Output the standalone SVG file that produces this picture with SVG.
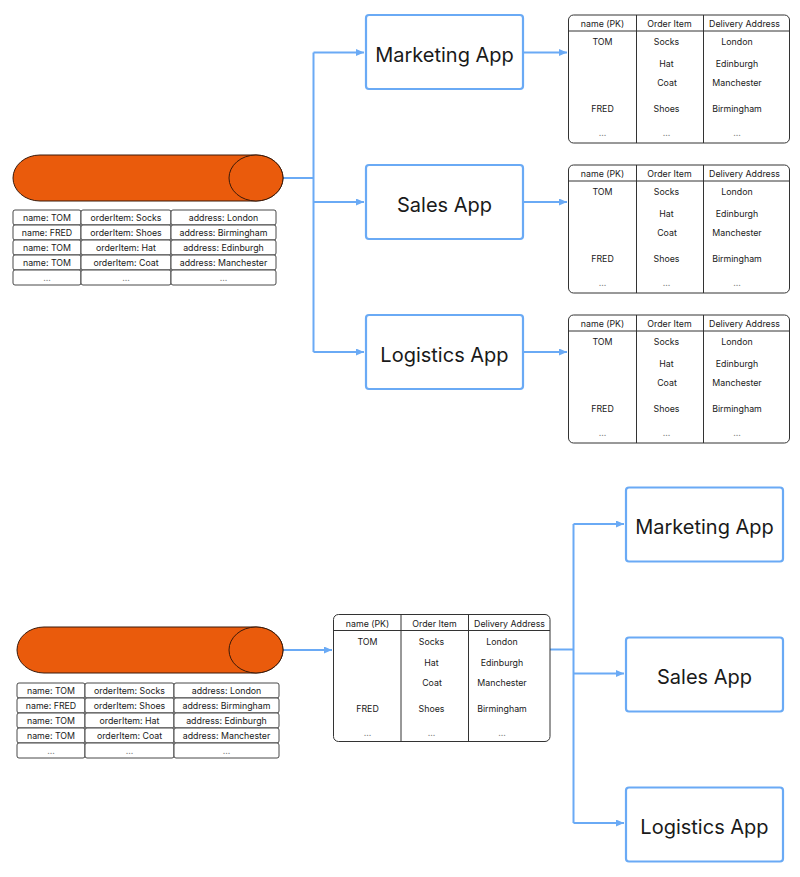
<svg xmlns="http://www.w3.org/2000/svg" width="800" height="877" viewBox="0 0 800 877">
<style>
text{font-family:Inter,"Liberation Sans",Arial,sans-serif;fill:#1a1a1a}
.app rect{fill:#fff;stroke:#6aaaf5;stroke-width:2.2}
.app text{font-size:20px;text-anchor:middle}
.tbl rect{fill:#fff;stroke:#333;stroke-width:1}
.tbl line{stroke:#333;stroke-width:1}
.tbl text{font-size:8.8px;text-anchor:middle}
.cell rect{fill:#fff;stroke:#333;stroke-width:0.9}
.cell text{font-size:8.8px;text-anchor:middle}
text.dim{fill:#888}
.cyl path,.cyl ellipse{fill:#ea5b0c;stroke:#3a1a0a;stroke-width:1}
.conn path{fill:none;stroke:#6aaaf5;stroke-width:2}
</style>
<defs>
<marker id="ah" markerUnits="userSpaceOnUse" markerWidth="9" markerHeight="8" refX="8" refY="3.5" orient="auto">
<path d="M0,0 L8,3.5 L0,7 Z" fill="#6aaaf5"/>
</marker>
</defs>
<rect width="800" height="877" fill="#fff"/>

<g class="conn">
<path d="M283,178 H313.5"/>
<path d="M313.5,52.5 V352"/>
<path d="M313.5,52.5 H364" marker-end="url(#ah)"/>
<path d="M313.5,202 H364" marker-end="url(#ah)"/>
<path d="M313.5,352 H364" marker-end="url(#ah)"/>
<path d="M524,52.5 H567" marker-end="url(#ah)"/>
<path d="M524,202 H567" marker-end="url(#ah)"/>
<path d="M524,352 H567" marker-end="url(#ah)"/>
<path d="M283,650 H332" marker-end="url(#ah)"/>
<path d="M550,649.5 H573.5"/>
<path d="M573.5,524 V823"/>
<path d="M573.5,524 H624" marker-end="url(#ah)"/>
<path d="M573.5,673.5 H624" marker-end="url(#ah)"/>
<path d="M573.5,823 H624" marker-end="url(#ah)"/>
</g>

<g id="stream-top" class="cyl">
<path d="M40,155 H256 A27,23 0 0 1 256,201 H40 A27,23 0 0 1 40,155 Z"/>
<ellipse cx="256" cy="178" rx="27" ry="23"/>
</g>
<g id="events-top" class="cell">
<rect x="13" y="210" width="68" height="15" rx="2"/><rect x="81" y="210" width="90" height="15" rx="2"/><rect x="171" y="210" width="105" height="15" rx="2"/>
<rect x="13" y="225" width="68" height="15" rx="2"/><rect x="81" y="225" width="90" height="15" rx="2"/><rect x="171" y="225" width="105" height="15" rx="2"/>
<rect x="13" y="240" width="68" height="15" rx="2"/><rect x="81" y="240" width="90" height="15" rx="2"/><rect x="171" y="240" width="105" height="15" rx="2"/>
<rect x="13" y="255" width="68" height="15" rx="2"/><rect x="81" y="255" width="90" height="15" rx="2"/><rect x="171" y="255" width="105" height="15" rx="2"/>
<rect x="13" y="270" width="68" height="15" rx="2"/><rect x="81" y="270" width="90" height="15" rx="2"/><rect x="171" y="270" width="105" height="15" rx="2"/>
<text x="47" y="220.5">name: TOM</text><text x="126" y="220.5">orderItem: Socks</text><text x="223.5" y="220.5">address: London</text>
<text x="47" y="235.5">name: FRED</text><text x="126" y="235.5">orderItem: Shoes</text><text x="223.5" y="235.5">address: Birmingham</text>
<text x="47" y="250.5">name: TOM</text><text x="126" y="250.5">orderItem: Hat</text><text x="223.5" y="250.5">address: Edinburgh</text>
<text x="47" y="265.5">name: TOM</text><text x="126" y="265.5">orderItem: Coat</text><text x="223.5" y="265.5">address: Manchester</text>
<text class="dim" x="47" y="280.5">...</text><text class="dim" x="126" y="280.5">...</text><text class="dim" x="223.5" y="280.5">...</text>
</g>

<g id="marketing-top" class="app"><rect x="366" y="15" width="157" height="74" rx="3"/><text x="444.5" y="61.5">Marketing App</text></g>
<g id="sales-top" class="app"><rect x="366" y="165" width="157" height="74" rx="3"/><text x="444.5" y="211.5">Sales App</text></g>
<g id="logistics-top" class="app"><rect x="366" y="315" width="157" height="74" rx="3"/><text x="444.5" y="361.5">Logistics App</text></g>

<g id="table-marketing" class="tbl" transform="translate(568.5,15)"><rect x="0" y="0" width="221" height="128" rx="5"/>
<line x1="0" y1="16" x2="221" y2="16"/><line x1="68" y1="0" x2="68" y2="128"/><line x1="135" y1="0" x2="135" y2="128"/>
<text x="34" y="12.3">name (PK)</text><text x="101" y="12.3">Order Item</text><text x="176" y="12.3">Delivery Address</text>
<text x="34" y="30.3">TOM</text><text x="98" y="30.3">Socks</text><text x="168.5" y="30.3">London</text>
<text x="98" y="51.5">Hat</text><text x="168.5" y="51.5">Edinburgh</text>
<text x="98.5" y="71">Coat</text><text x="168.5" y="71">Manchester</text>
<text x="34" y="97">FRED</text><text x="98" y="97">Shoes</text><text x="168.5" y="97">Birmingham</text>
<text class="dim" x="34" y="121">...</text><text class="dim" x="98" y="121">...</text><text class="dim" x="168.5" y="121">...</text>
</g>
<g id="table-sales" class="tbl" transform="translate(568.5,165)"><rect x="0" y="0" width="221" height="128" rx="5"/>
<line x1="0" y1="16" x2="221" y2="16"/><line x1="68" y1="0" x2="68" y2="128"/><line x1="135" y1="0" x2="135" y2="128"/>
<text x="34" y="12.3">name (PK)</text><text x="101" y="12.3">Order Item</text><text x="176" y="12.3">Delivery Address</text>
<text x="34" y="30.3">TOM</text><text x="98" y="30.3">Socks</text><text x="168.5" y="30.3">London</text>
<text x="98" y="51.5">Hat</text><text x="168.5" y="51.5">Edinburgh</text>
<text x="98.5" y="71">Coat</text><text x="168.5" y="71">Manchester</text>
<text x="34" y="97">FRED</text><text x="98" y="97">Shoes</text><text x="168.5" y="97">Birmingham</text>
<text class="dim" x="34" y="121">...</text><text class="dim" x="98" y="121">...</text><text class="dim" x="168.5" y="121">...</text>
</g>
<g id="table-logistics" class="tbl" transform="translate(568.5,315)"><rect x="0" y="0" width="221" height="128" rx="5"/>
<line x1="0" y1="16" x2="221" y2="16"/><line x1="68" y1="0" x2="68" y2="128"/><line x1="135" y1="0" x2="135" y2="128"/>
<text x="34" y="12.3">name (PK)</text><text x="101" y="12.3">Order Item</text><text x="176" y="12.3">Delivery Address</text>
<text x="34" y="30.3">TOM</text><text x="98" y="30.3">Socks</text><text x="168.5" y="30.3">London</text>
<text x="98" y="51.5">Hat</text><text x="168.5" y="51.5">Edinburgh</text>
<text x="98.5" y="71">Coat</text><text x="168.5" y="71">Manchester</text>
<text x="34" y="97">FRED</text><text x="98" y="97">Shoes</text><text x="168.5" y="97">Birmingham</text>
<text class="dim" x="34" y="121">...</text><text class="dim" x="98" y="121">...</text><text class="dim" x="168.5" y="121">...</text>
</g>

<g id="stream-bottom" class="cyl">
<path d="M44,627 H256 A27,23 0 0 1 256,673 H44 A27,23 0 0 1 44,627 Z"/>
<ellipse cx="256" cy="650" rx="27" ry="23"/>
</g>
<g id="events-bottom" class="cell">
<rect x="17" y="683" width="68" height="15" rx="2"/><rect x="85" y="683" width="89" height="15" rx="2"/><rect x="174" y="683" width="105" height="15" rx="2"/>
<rect x="17" y="698" width="68" height="15" rx="2"/><rect x="85" y="698" width="89" height="15" rx="2"/><rect x="174" y="698" width="105" height="15" rx="2"/>
<rect x="17" y="713" width="68" height="15" rx="2"/><rect x="85" y="713" width="89" height="15" rx="2"/><rect x="174" y="713" width="105" height="15" rx="2"/>
<rect x="17" y="728" width="68" height="15" rx="2"/><rect x="85" y="728" width="89" height="15" rx="2"/><rect x="174" y="728" width="105" height="15" rx="2"/>
<rect x="17" y="743" width="68" height="15" rx="2"/><rect x="85" y="743" width="89" height="15" rx="2"/><rect x="174" y="743" width="105" height="15" rx="2"/>
<text x="51" y="693.5">name: TOM</text><text x="129.5" y="693.5">orderItem: Socks</text><text x="226.5" y="693.5">address: London</text>
<text x="51" y="708.5">name: FRED</text><text x="129.5" y="708.5">orderItem: Shoes</text><text x="226.5" y="708.5">address: Birmingham</text>
<text x="51" y="723.5">name: TOM</text><text x="129.5" y="723.5">orderItem: Hat</text><text x="226.5" y="723.5">address: Edinburgh</text>
<text x="51" y="738.5">name: TOM</text><text x="129.5" y="738.5">orderItem: Coat</text><text x="226.5" y="738.5">address: Manchester</text>
<text class="dim" x="51" y="753.5">...</text><text class="dim" x="129.5" y="753.5">...</text><text class="dim" x="226.5" y="753.5">...</text>
</g>

<g id="table-bottom" class="tbl" transform="translate(333.5,614.5)"><rect x="0" y="0" width="216.5" height="127" rx="5"/>
<line x1="0" y1="16" x2="216.5" y2="16"/><line x1="67.5" y1="0" x2="67.5" y2="127"/><line x1="135" y1="0" x2="135" y2="127"/>
<text x="34" y="12.3">name (PK)</text><text x="101" y="12.3">Order Item</text><text x="176" y="12.3">Delivery Address</text>
<text x="34" y="30.3">TOM</text><text x="98" y="30.3">Socks</text><text x="168.5" y="30.3">London</text>
<text x="98" y="51.5">Hat</text><text x="168.5" y="51.5">Edinburgh</text>
<text x="98.5" y="71">Coat</text><text x="168.5" y="71">Manchester</text>
<text x="34" y="97">FRED</text><text x="98" y="97">Shoes</text><text x="168.5" y="97">Birmingham</text>
<text class="dim" x="34" y="121">...</text><text class="dim" x="98" y="121">...</text><text class="dim" x="168.5" y="121">...</text>
</g>

<g id="marketing-bottom" class="app"><rect x="626" y="487.5" width="157" height="74" rx="3"/><text x="704.5" y="534">Marketing App</text></g>
<g id="sales-bottom" class="app"><rect x="626" y="637.5" width="157" height="74" rx="3"/><text x="704.5" y="684">Sales App</text></g>
<g id="logistics-bottom" class="app"><rect x="626" y="787.5" width="157" height="74" rx="3"/><text x="704.5" y="834">Logistics App</text></g>
</svg>
